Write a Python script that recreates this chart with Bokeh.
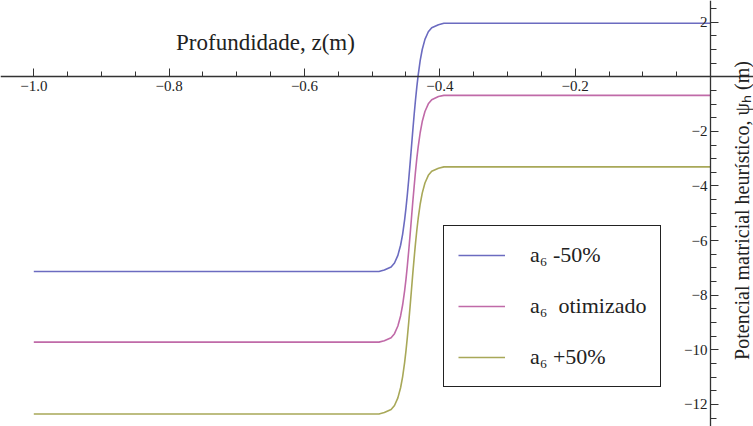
import math
from bokeh.plotting import figure
from bokeh.models import (FixedTicker, Label, Legend, LegendItem, Range1d)
from bokeh.embed import file_html
from bokeh.resources import INLINE

# Depth z (m)
z = [-1.0, -0.490, -0.482, -0.472, -0.467, -0.462, -0.458, -0.455, -0.452, -0.450, -0.448,
     -0.446, -0.444, -0.442, -0.440, -0.438, -0.436, -0.434, -0.432, -0.429,
     -0.426, -0.422, -0.417, -0.412, -0.402, -0.394, 0.0]

# Heuristic matric potential (m)
psi_minus50 = [-7.13, -7.13, -7.08, -6.97, -6.82, -6.54, -6.17, -5.77, -5.23, -4.80, -4.31,
               -3.77, -3.19, -2.59, -1.98, -1.40, -0.86, -0.37, 0.06, 0.60,
               1.00, 1.37, 1.65, 1.80, 1.91, 1.96, 1.96]
psi_otim = [-9.72, -9.72, -9.67, -9.56, -9.41, -9.13, -8.76, -8.36, -7.83, -7.41, -6.92,
            -6.38, -5.81, -5.20, -4.59, -4.03, -3.48, -2.99, -2.57, -2.04,
            -1.64, -1.27, -0.99, -0.84, -0.72, -0.68, -0.68]
psi_plus50 = [-12.35, -12.35, -12.30, -12.19, -12.04, -11.76, -11.39, -10.99, -10.46, -10.03, -9.54,
              -9.00, -8.43, -7.83, -7.22, -6.65, -6.11, -5.62, -5.19, -4.66,
              -4.26, -3.89, -3.61, -3.46, -3.35, -3.30, -3.30]

series_labels = ["a\u2086 -50%", "a\u2086  otimizado", "a\u2086 +50%"]

x_major = [-1.0, -0.8, -0.6, -0.4, -0.2]
x_major_labels = ["\u22121.0", "\u22120.8", "\u22120.6", "\u22120.4", "\u22120.2"]
x_minor = [-0.95, -0.9, -0.85, -0.75, -0.7, -0.65, -0.55, -0.5, -0.45,
           -0.35, -0.3, -0.25, -0.15, -0.1, -0.05]
y_major = [2, -2, -4, -6, -8, -10, -12]
y_major_labels = ["2", "\u22122", "\u22124", "\u22126", "\u22128", "\u221210", "\u221212"]
y_minor = [2.5, 1.5, 1.0, 0.5, -0.5, -1.0, -1.5, -2.5, -3.0, -3.5, -4.5, -5.0, -5.5,
           -6.5, -7.0, -7.5, -8.5, -9.0, -9.5, -10.5, -11.0, -11.5, -12.5]

W, H = 753, 426
p = figure(width=W, height=H, output_backend="svg", toolbar_location=None,
           min_border=0, min_border_left=0, min_border_right=0,
           min_border_top=0, min_border_bottom=0)
p.x_range = Range1d(-1.0492, 0.0635)
p.y_range = Range1d(-12.81, 2.795)
p.outline_line_color = None
p.grid.visible = False
p.background_fill_color = "white"
p.border_fill_color = "white"

serif = "Liberation Serif"

# axes crossing at origin
xa = p.xaxis[0]
xa.fixed_location = 0
xa.ticker = FixedTicker(ticks=x_major, minor_ticks=x_minor)
xa.major_label_overrides = {v: s for v, s in zip(x_major, x_major_labels)}
xa.major_tick_in = 8
xa.major_tick_out = 0
xa.minor_tick_in = 5
xa.minor_tick_out = 0
xa.axis_line_color = "#333333"
xa.axis_line_width = 1.3
xa.major_tick_line_color = "#333333"
xa.minor_tick_line_color = "#333333"
xa.major_label_text_font = serif
xa.major_label_text_font_size = "15px"
xa.major_label_text_color = "#222222"
xa.major_label_standoff = 4

ya = p.yaxis[0]
ya.fixed_location = 0
ya.ticker = FixedTicker(ticks=y_major, minor_ticks=y_minor)
ya.major_label_overrides = {v: s for v, s in zip(y_major, y_major_labels)}
ya.major_tick_in = 8
ya.major_tick_out = 0
ya.minor_tick_in = 6
ya.minor_tick_out = 0
ya.axis_line_color = "#333333"
ya.axis_line_width = 1.3
ya.major_tick_line_color = "#333333"
ya.minor_tick_line_color = "#333333"
ya.major_label_text_font = serif
ya.major_label_text_font_size = "15px"
ya.major_label_text_color = "#222222"
ya.major_label_standoff = 3

colors = ["#6b6bc0", "#c06aa8", "#a8a858"]
r1 = p.line(z, psi_minus50, line_color=colors[0], line_width=1.6)
r2 = p.line(z, psi_otim, line_color=colors[1], line_width=1.6)
r3 = p.line(z, psi_plus50, line_color=colors[2], line_width=1.6)

legend = Legend(items=[LegendItem(label=series_labels[0], renderers=[r1]),
                       LegendItem(label=series_labels[1], renderers=[r2]),
                       LegendItem(label=series_labels[2], renderers=[r3])],
                location=(443, 39))
legend.label_text_font = serif
legend.label_text_font_size = "22px"
legend.label_text_color = "#222222"
legend.glyph_width = 47
legend.glyph_height = 30
legend.label_height = 30
legend.label_standoff = 25
legend.spacing = 21
legend.padding = 14
legend.margin = 0
legend.border_line_color = "#222222"
legend.border_line_alpha = 1.0
legend.border_line_width = 1.6
legend.background_fill_alpha = 1.0
p.add_layout(legend, "center")

p.add_layout(Label(x=265, y=H - 42, x_units="screen", y_units="screen",
                   text="Profundidade, z(m)", text_font=serif,
                   text_font_size="23px", text_color="#222222",
                   text_align="center", text_baseline="middle"))
p.add_layout(Label(x=741, y=H - 210, x_units="screen", y_units="screen",
                   text="Potencial matricial heur\u00edstico, \u03c8\u2095 (m)",
                   text_font=serif, text_font_size="20px", text_color="#222222",
                   angle=math.pi / 2, text_align="center", text_baseline="middle"))

open("out.html", "w").write(file_html(p, INLINE))
